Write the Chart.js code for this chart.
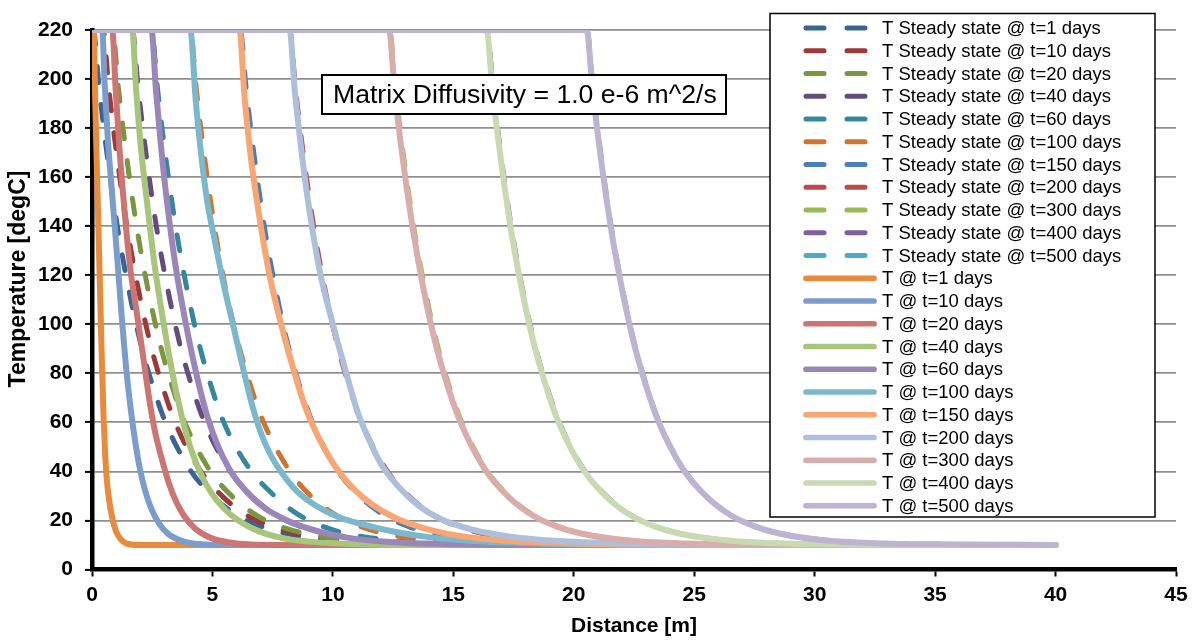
<!DOCTYPE html>
<html>
<head>
<meta charset="utf-8">
<script src="https://cdn.jsdelivr.net/npm/chart.js@4.4.1/dist/chart.umd.min.js"></script>
<style>
  html, body { margin: 0; padding: 0; background: #fff; }
  #wrap { width: 1197px; height: 640px; }
</style>
</head>
<body>
<div id="wrap"><canvas id="chart" width="1197" height="640"></canvas></div>
<script>
// Times (days) for each profile
const days = [1, 10, 20, 40, 60, 100, 150, 200, 300, 400, 500];

const xTicks = [0, 5, 10, 15, 20, 25, 30, 35, 40, 45];
const yTicks = [0, 20, 40, 60, 80, 100, 120, 140, 160, 180, 200, 220];

// Steady state profiles: [distance m, temperature degC]
const ssDay1 = [[0,220],[0.05,220],[0.3,196],[0.55,175],[1.05,140],[1.55,113],[2.05,91],[2.55,74],[3.05,60],[4.05,41],[5.05,29.5],[6.05,22],[7.05,17.5],[8.05,14.7],[10,11.8],[12,10.7],[15,10.2],[20,10],[40,10]];
const ssDay10 = [[0,220],[0.45,220],[0.7,196],[0.95,175],[1.45,140],[1.95,113],[2.45,91],[2.95,74],[3.45,60],[4.45,41],[5.45,29.5],[6.45,22],[7.45,17.5],[8.45,14.7],[10.45,11.8],[12.5,10.7],[15.5,10.2],[20.5,10],[40,10]];
const ssDay20 = [[0,220],[0.85,220],[1.1,196],[1.35,175],[1.85,140],[2.35,113],[2.85,91],[3.35,74],[3.85,60],[4.85,41],[5.85,29.5],[6.85,22],[7.85,17.5],[8.85,14.7],[10.85,11.8],[12.85,10.7],[15.85,10.2],[21,10],[40,10]];
const ssDay40 = [[0,220],[1.67,220],[1.92,196],[2.17,175],[2.67,140],[3.17,113],[3.67,91],[4.17,74],[4.67,60],[5.67,41],[6.67,29.5],[7.67,22],[8.67,17.5],[9.67,14.7],[11.67,11.8],[13.67,10.7],[16.7,10.2],[22,10],[40,10]];
const ssDay60 = [[0,220],[2.47,220],[2.72,196],[2.97,175],[3.47,140],[3.97,113],[4.47,91],[4.97,74],[5.47,60],[6.47,42],[7.47,31],[8.47,23],[9.47,18],[10.47,14.9],[12.5,11.8],[14.5,10.7],[17.5,10.2],[22.5,10],[40,10]];
const ssDay100 = [[0,220],[4.08,220],[4.33,196],[4.58,175],[5.08,140],[5.58,113],[6.08,92],[6.58,75],[7.08,61],[8.08,42],[9.08,30],[10.08,22.5],[11.08,17.8],[12.08,14.8],[14.1,11.8],[16.1,10.7],[19.1,10.2],[24,10],[40,10]];
const ssDay150 = [[0,220],[6.15,220],[6.4,196],[6.65,175],[7.15,140],[7.65,113],[8.15,91],[8.65,74],[9.15,60],[10.15,41],[11.15,29.5],[12.15,22],[13.15,17.5],[14.15,14.7],[16.15,11.8],[18.15,10.7],[21.2,10.2],[26,10],[40,10]];
const ssDay200 = [[0,220],[8.2,220],[8.45,196],[8.7,175],[9.2,140],[9.7,113],[10.2,91],[10.7,74],[11.2,60],[12.2,41],[13.2,29.5],[14.2,22],[15.2,17.5],[16.2,14.7],[18.2,11.8],[20.2,10.7],[23.2,10.2],[28,10],[40,10]];
const ssDay300 = [[0,220],[12.35,220],[12.6,196],[12.85,175],[13.35,140],[13.85,113],[14.35,91],[14.85,74],[15.35,60],[16.35,41],[17.35,29.5],[18.35,22],[19.35,17.5],[20.35,14.7],[22.35,11.8],[24.35,10.7],[27.4,10.2],[32,10],[40,10]];
const ssDay400 = [[0,220],[16.4,220],[16.65,196],[16.9,175],[17.4,140],[17.9,113],[18.4,91],[18.9,74],[19.4,60],[20.4,41],[21.4,29.5],[22.4,22],[23.4,17.5],[24.4,14.7],[26.4,11.8],[28.4,10.7],[31.4,10.2],[36,10],[40,10]];
const ssDay500 = [[0,220],[20.55,220],[20.8,196],[21.05,175],[21.55,140],[22.05,113],[22.55,91],[23.05,74],[23.55,60],[24.55,41],[25.55,29.5],[26.55,22],[27.55,17.5],[28.55,14.7],[30.55,11.8],[32.55,10.7],[35.5,10.2],[40,10]];

// Transient profiles: [distance m, temperature degC]
const tDay1 = [[0,220],[0.07,220],[0.12,197],[0.18,172],[0.25,146],[0.33,115],[0.41,85],[0.48,62],[0.55,46],[0.63,35],[0.73,27],[0.85,20.5],[1.0,15.5],[1.18,12.5],[1.38,10.9],[1.6,10.2],[2,10],[40,10]];
const tDay10 = [[0,220],[0.42,220],[0.53,197],[0.66,175],[0.82,155],[1.0,133],[1.22,105],[1.42,82],[1.6,66],[1.78,53],[1.97,42],[2.18,33],[2.45,25],[2.8,18.5],[3.2,14.2],[3.7,11.8],[4.3,10.5],[5,10.1],[6,10],[40,10]];
const tDay20 = [[0,220],[0.84,220],[0.98,196],[1.13,173],[1.3,152],[1.55,126],[1.9,102],[2.15,85],[2.4,68],[2.62,56],[2.9,45],[3.2,35],[3.5,27.5],[3.85,21.5],[4.3,16.5],[4.9,13],[5.7,11],[6.6,10.2],[8,10],[40,10]];
const tDay40 = [[0,220],[1.67,220],[1.83,196],[2.02,173],[2.28,150],[2.6,124],[2.98,100],[3.3,82],[3.62,67],[3.92,55],[4.3,44],[4.72,35],[5.2,28],[5.8,22],[6.7,16.5],[7.9,12.8],[9.5,11],[11.5,10.2],[14,10],[40,10]];
const tDay60 = [[0,220],[2.47,220],[2.65,196],[2.85,174],[3.1,151],[3.45,125],[3.9,100],[4.35,79],[4.8,62],[5.2,51],[5.7,41],[6.3,33],[7.1,25.5],[8.1,20],[9.3,15.8],[10.6,13],[12.2,11.3],[14.5,10.4],[18,10],[40,10]];
const tDay100 = [[0,220],[4.08,220],[4.3,192],[4.5,172],[4.77,151],[5.1,134],[5.45,117],[5.85,100],[6.25,83],[6.65,67],[7.0,56],[7.4,47],[7.8,40.5],[8.5,32],[9.3,26],[10.2,21.5],[11,19],[12.5,15.5],[14,13.2],[16,11.5],[19,10.5],[23,10.1],[40,10]];
const tDay150 = [[0,220],[6.12,220],[6.33,193],[6.57,170],[6.85,150],[7.33,122],[7.85,100],[8.35,82],[8.9,65],[9.45,53],[10.1,42],[10.85,33],[11.7,26],[12.6,21],[13.8,16.8],[15.2,13.8],[17.2,11.7],[20,10.6],[24,10.1],[40,10]];
const tDay200 = [[0,220],[8.2,220],[8.42,195],[8.68,172],[8.97,150],[9.45,122],[10.0,100],[10.5,82],[11.0,65],[11.45,54],[12.0,43],[12.7,34],[13.5,26.5],[14.5,20.5],[15.8,16.2],[17.3,13.5],[19.2,11.7],[22,10.6],[26,10.1],[40,10]];
const tDay300 = [[0,220],[12.33,220],[12.56,196],[12.8,175],[13.3,140],[13.79,113],[14.29,91],[14.79,74],[15.3,60],[16.3,41],[17.3,29.5],[18.3,22],[19.3,17.5],[20.3,14.7],[22.3,11.8],[24.3,10.7],[27.4,10.2],[32,10],[40,10]];
const tDay400 = [[0,220],[16.38,220],[16.62,196],[16.87,175],[17.37,140],[17.87,113],[18.37,91],[18.87,74],[19.37,60],[20.37,41],[21.37,29.5],[22.37,22],[23.37,17.5],[24.37,14.7],[26.4,11.8],[28.4,10.7],[31.4,10.2],[36,10],[40,10]];
const tDay500 = [[0,220],[20.53,220],[20.78,196],[21.03,175],[21.53,140],[22.03,113],[22.53,91],[23.03,74],[23.53,60],[24.53,41],[25.53,29.5],[26.53,22],[27.53,17.5],[28.53,14.7],[30.5,11.8],[32.5,10.7],[35.5,10.2],[40,10]];

const steadySeries = [ssDay1, ssDay10, ssDay20, ssDay40, ssDay60, ssDay100, ssDay150, ssDay200, ssDay300, ssDay400, ssDay500];
const transientSeries = [tDay1, tDay10, tDay20, tDay40, tDay60, tDay100, tDay150, tDay200, tDay300, tDay400, tDay500];

const steadyColors = ['#3a6496', '#9b3b39', '#7a963f', '#634d7f', '#35879d', '#cd7531', '#4a7ebb', '#be4b48', '#98b954', '#7d60a0', '#4bacc6'];
const transientColors = ['#ea8a3c', '#7b9dcb', '#cd7572', '#a9c47b', '#9a86b8', '#7cb8cd', '#f9a672', '#adbfd9', '#d9adac', '#c9dab2', '#bcb4d0'];

const FONT = '"Liberation Sans", Arial, sans-serif';

const toPoints = (rows) => rows.map(([x, y]) => ({ x, y }));

const datasets = [];
days.forEach((d, i) => {
    datasets.push({
        label: `T Steady state @ t=${d} days`,
        data: toPoints(steadySeries[i]),
        borderColor: steadyColors[i],
        borderWidth: 5,
        borderDash: [16, 22],
        borderCapStyle: 'round',
        dashed: true,
    });
});
days.forEach((d, i) => {
    datasets.push({
        label: `T @ t=${d} days`,
        data: toPoints(transientSeries[i]),
        borderColor: transientColors[i],
        borderWidth: 6,
        borderDash: [],
        borderCapStyle: 'round',
        dashed: false,
    });
});
// later series sit on top, as in the legend order
datasets.forEach((ds, i) => { ds.order = datasets.length - i; });

// boxed legend drawn over the upper right of the plot
const boxedLegend = {
    id: 'boxedLegend',
    afterDraw(chart) {
        const ctx = chart.ctx;
        const rows = chart.data.datasets;
        const top = 28;
        const step = 22.75;
        ctx.save();
        ctx.fillStyle = '#fff';
        ctx.fillRect(770, 13.5, 385, 503.5);
        ctx.strokeStyle = '#000';
        ctx.lineWidth = 1.5;
        ctx.strokeRect(770, 13.5, 385, 503.5);
        ctx.font = `18.5px ${FONT}`;
        ctx.textBaseline = 'middle';
        ctx.lineCap = 'round';
        rows.forEach((ds, i) => {
            const y = top + i * step;
            ctx.strokeStyle = ds.borderColor;
            ctx.beginPath();
            if (ds.dashed) {
                ctx.lineWidth = 5;
                ctx.moveTo(806, y); ctx.lineTo(824, y);
                ctx.moveTo(847, y); ctx.lineTo(865, y);
            } else {
                ctx.lineWidth = 5.7;
                ctx.moveTo(806, y); ctx.lineTo(874, y);
            }
            ctx.stroke();
            ctx.fillStyle = '#000';
            ctx.fillText(ds.label, 882, y + 1);
        });
        ctx.restore();
    },
};

// text box with the diffusivity note, plus the vertical axis title
const notes = {
    id: 'notes',
    afterDraw(chart) {
        const ctx = chart.ctx;
        ctx.save();
        ctx.fillStyle = '#fff';
        ctx.fillRect(322, 75, 404, 39);
        ctx.strokeStyle = '#000';
        ctx.lineWidth = 2;
        ctx.strokeRect(322, 75, 404, 39);
        ctx.fillStyle = '#000';
        ctx.font = `26.6px ${FONT}`;
        ctx.textBaseline = 'middle';
        ctx.fillText('Matrix Diffusivity = 1.0 e-6 m^2/s', 333, 96);

        ctx.translate(19, 279);
        ctx.rotate(-Math.PI / 2);
        ctx.textAlign = 'center';
        ctx.font = `bold 23px ${FONT}`;
        ctx.fillText('Temperature [degC]', 0, 0);
        ctx.restore();
    },
};

new Chart(document.getElementById('chart'), {
    type: 'line',
    data: { datasets },
    plugins: [boxedLegend, notes],
    options: {
        responsive: false,
        animation: false,
        events: [],
        layout: { padding: { top: 30, right: 21, left: 0, bottom: 0 } },
        elements: {
            point: { radius: 0 },
            line: { borderJoinStyle: 'round', cubicInterpolationMode: 'monotone' },
        },
        plugins: {
            legend: { display: false },
            tooltip: { enabled: false },
        },
        scales: {
            x: {
                type: 'linear',
                min: xTicks[0],
                max: xTicks[xTicks.length - 1],
                afterBuildTicks: (scale) => { scale.ticks = xTicks.map((v) => ({ value: v })); },
                afterFit: (scale) => { scale.height = 70.5; },
                ticks: {
                    color: '#000',
                    padding: 6,
                    font: { family: FONT, size: 21, weight: 'bold' },
                },
                grid: {
                    drawOnChartArea: false,
                    tickLength: 7,
                    tickColor: '#000',
                    tickWidth: 2,
                },
                border: { color: '#000', width: 4.5 },
                title: {
                    display: true,
                    text: 'Distance [m]',
                    color: '#000',
                    padding: { top: 0, bottom: 1 },
                    font: { family: FONT, size: 21, weight: 'bold' },
                },
            },
            y: {
                min: yTicks[0],
                max: yTicks[yTicks.length - 1],
                afterBuildTicks: (scale) => { scale.ticks = yTicks.map((v) => ({ value: v })); },
                afterFit: (scale) => { scale.width = 92; },
                ticks: {
                    color: '#000',
                    padding: 12,
                    font: { family: FONT, size: 21, weight: 'bold' },
                },
                grid: {
                    color: '#8f8f8f',
                    lineWidth: 1.8,
                    tickLength: 7,
                    tickColor: '#000',
                    tickWidth: 2,
                },
                border: { color: '#000', width: 4.5 },
            },
        },
    },
});
</script>
</body>
</html>
